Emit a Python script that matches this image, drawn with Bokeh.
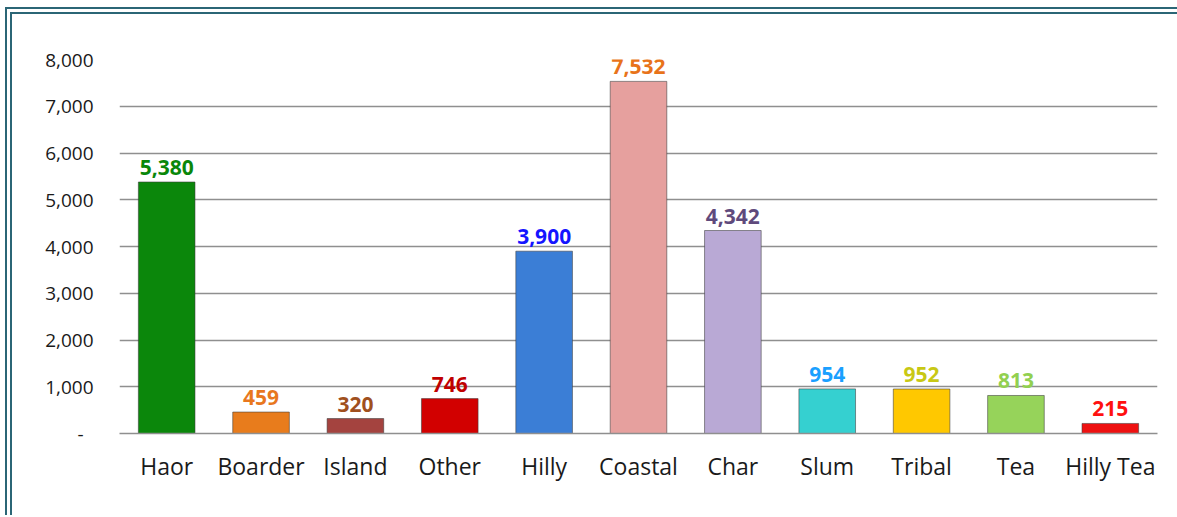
from bokeh.plotting import figure
from bokeh.models import ColumnDataSource, FixedTicker, NumeralTickFormatter, FactorRange, Range1d
from bokeh.core.properties import value
from bokeh.embed import file_html
from bokeh.resources import INLINE

categories = ["Haor", "Boarder", "Island", "Other", "Hilly", "Coastal", "Char", "Slum", "Tribal", "Tea", "Hilly Tea"]
counts = [5380, 459, 320, 746, 3900, 7532, 4342, 954, 952, 813, 215]
bar_colors = ["#0b870b", "#e87c1c", "#a4433f", "#d20000", "#3b7ed6", "#e6a09e", "#b9a9d5", "#35d0d0", "#ffc800", "#96d35a", "#ee1111"]
label_colors = ["#0a870a", "#e8771e", "#a0501e", "#c00000", "#1414ff", "#e8731a", "#5f4a7c", "#1aa0ff", "#c8c814", "#92d050", "#ff1010"]
y_ticks = [0, 1000, 2000, 3000, 4000, 5000, 6000, 7000, 8000]

labels = [f"{v:,}" for v in counts]
src = ColumnDataSource(dict(cat=categories, val=counts, fill=bar_colors, lab=labels, lc=label_colors))

p = figure(x_range=FactorRange(*categories, range_padding=0), y_range=Range1d(0, 8000),
           width=1172, height=508, output_backend="svg", toolbar_location=None,
           min_border_left=107, min_border_right=27, min_border_top=45, min_border_bottom=89)
p.outline_line_color = None
p.background_fill_color = "white"
p.border_fill_color = "white"
p.styles = {"border-top": "7px double #2b6676", "border-left": "7px double #2b6676",
            "border-right": "0px none", "border-bottom": "0px none", "box-shadow": "none",
            "margin-left": "5px", "margin-top": "7px", "overflow": "hidden"}

p.vbar(x="cat", top="val", width=0.6, bottom=0, source=src, fill_color="fill",
       line_color="#3a3a3a", line_alpha=0.55, line_width=1)

p.text(x="cat", y="val", text="lab", source=src, text_color="lc", text_align="center",
       text_baseline="bottom", y_offset=-7, text_font=value("Open Sans"),
       text_font_style="bold", text_font_size="21px")

# grid
p.xgrid.grid_line_color = None
p.ygrid.grid_line_color = "#8f8f8f"
p.ygrid.grid_line_width = 1.7
p.ygrid.ticker = FixedTicker(ticks=y_ticks)

# y axis
p.yaxis.ticker = FixedTicker(ticks=y_ticks)
p.yaxis.formatter = NumeralTickFormatter(format="0,0")
p.yaxis.major_label_overrides = {0: "-\u00a0\u00a0"}
p.yaxis.axis_line_color = None
p.yaxis.major_tick_line_color = None
p.yaxis.minor_tick_line_color = None
p.yaxis.major_label_standoff = 20
p.yaxis.major_label_text_font = "Open Sans"
p.yaxis.major_label_text_font_size = "19px"
p.yaxis.major_label_text_color = "#1a1a1a"

# x axis
p.xaxis.axis_line_color = "#8f8f8f"
p.xaxis.axis_line_width = 1.7
p.xaxis.major_tick_line_color = None
p.xaxis.minor_tick_line_color = None
p.xaxis.major_label_standoff = 10
p.xaxis.major_label_text_font = "Open Sans"
p.xaxis.major_label_text_font_size = "23px"
p.xaxis.major_label_text_color = "#1a1a1a"

open("out.html", "w").write(file_html(p, INLINE))
